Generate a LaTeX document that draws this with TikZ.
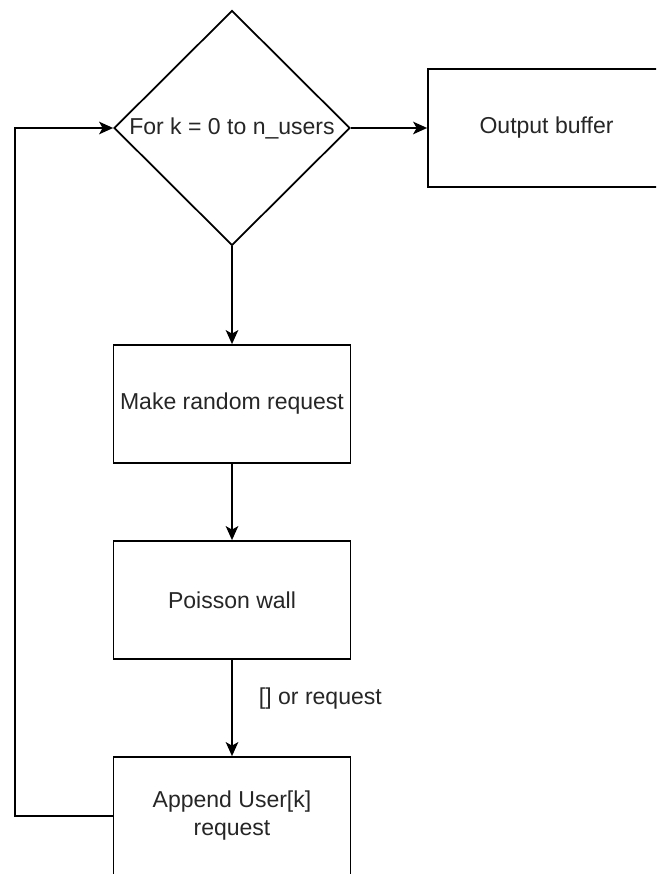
\documentclass[tikz,border=0pt]{standalone}
\usepackage{fontspec}
\setmainfont{Liberation Sans}
\usepackage{tikz}
\usetikzlibrary{shapes.geometric, arrows.meta}

\tikzset{
  stepbox/.style={draw, rectangle, line width=1pt, inner sep=0pt,
    minimum width=4.74cm, minimum height=2.36cm, align=center,
    text=black!85, font=\fontsize{13.1pt}{15.9pt}\selectfont},
  loopcheck/.style={draw, diamond, aspect=1, line width=1pt, inner sep=0pt,
    minimum width=4.72cm, minimum height=4.7cm,
    text=black!85, font=\fontsize{13.1pt}{15.9pt}\selectfont},
  flow/.style={draw, line width=1.1pt, -{Stealth[length=0.28cm, width=0.25cm, inset=0.07cm]}},
}

\begin{document}
\begin{tikzpicture}[x=0.02cm, y=-0.02cm]
\clip (0,0) rectangle (656,874);

% Loop head
\node[loopcheck] (forloop) at (232,128) {For k = 0 to n\_users};
\node[stepbox] (outbuf) at (546.5,128) {Output buffer};

% Body of the loop
\node[stepbox] (makereq) at (232,404) {Make random request};
\node[stepbox] (poisson) at (232,600) {Poisson wall};
\node[stepbox] (append) at (232,816) {Append User[k]\\request};

% Arrows
\draw[flow] (forloop) -- (outbuf);
\draw[flow] (forloop) -- (makereq);
\draw[flow] (makereq) -- (poisson);
\draw[flow] (poisson) -- node[pos=0.4, anchor=west, inner sep=0pt, xshift=0.52cm,
  text=black!85, font=\fontsize{13.1pt}{15.9pt}\selectfont] {[] or request} (append);

% Back to the loop head
\coordinate (loopcorner) at (15,816);
\draw[flow] (append.west) -- (loopcorner) |- (forloop.west);

\end{tikzpicture}
\end{document}
